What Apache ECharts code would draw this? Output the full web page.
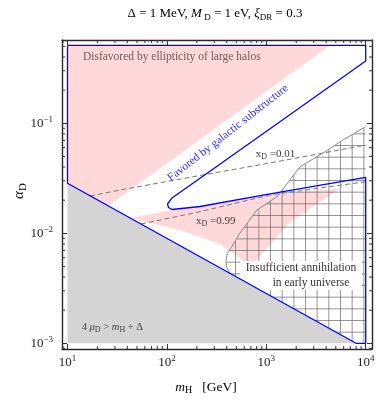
<!DOCTYPE html>
<html><head><meta charset="utf-8">
<script src="https://cdn.jsdelivr.net/npm/echarts@6/dist/echarts.min.js"></script>
<style>html,body{margin:0;padding:0;background:#fff}#c{width:379px;height:401px}</style>
</head><body><div id="c"></div>
<script>
// ---- axis extents (frame includes a small padding around the data range 10..1e4, 1e-3..0.51)
const X_MIN = 8.806, X_MAX = 11570;
const Y_MIN = 8.875e-4, Y_MAX = 0.5716;
const xMajorTicks = [10, 100, 1000, 10000];
const yMajorTicks = [0.001, 0.01, 0.1];
const xMinorTicks = [9, 20, 30, 40, 50, 60, 70, 80, 90, 200, 300, 400, 500, 600, 700, 800, 900, 2000, 3000, 4000, 5000, 6000, 7000, 8000, 9000];
const yMinorTicks = [0.0009, 0.002, 0.003, 0.004, 0.005, 0.006, 0.007, 0.008, 0.009, 0.02, 0.03, 0.04, 0.05, 0.06, 0.07, 0.08, 0.09, 0.2, 0.3, 0.4, 0.5];

// ---- regions (m_H [GeV], alpha_D)
const grayRegion = [[10, 0.001], [10, 0.0285], [8000, 0.001]];
const pinkUpper = [[10, 0.51], [4373, 0.51], [25.55, 0.0177], [10, 0.0285]];
const pinkLower = [[42.55, 0.01377], [112.5, 0.01629], [215.3, 0.01734], [1090, 0.02253], [5513, 0.02555],
                   [1731, 0.01267], [769.6, 0.00548], [610.6, 0.00548], [342.1, 0.007993], [135.5, 0.01072]];
const hatchCurve = [[431.3, 0.00432], [400, 0.0049], [393, 0.0056], [405, 0.0066], [441.5, 0.00735], [543.7, 0.01006],
                    [806, 0.01629], [1281, 0.02151], [2183, 0.04031], [3719, 0.0537], [5908, 0.07049], [10000, 0.0931]];
const hatchCorners = [[10000, 0.001], [8000, 0.001]];
const favoredOutline = [[10, 0.51], [10000, 0.51], [10000, 0.368], [1047, 0.0869], [215.3, 0.0317], [112.5, 0.02094],
                        [101.4, 0.01846], [103.8, 0.01716], [112.5, 0.01646], [215.3, 0.01752], [1090, 0.02277],
                        [10000, 0.03217], [10000, 0.001], [8000, 0.001], [10, 0.0285], [10, 0.51]];
const xD001 = [[16.84, 0.02183], [33.75, 0.02474], [215.3, 0.03353], [1090, 0.04356], [10000, 0.06348]];
const xD099 = [[54.9, 0.01215], [215.3, 0.01572], [1090, 0.0223], [10000, 0.02944]];
const textBox = [[543.7, 0.0056], [9181, 0.0056], [9181, 0.00305], [543.7, 0.00305]];

// ---- annotation anchors (data coords)
const posEllipticity = [14.3, 0.4005];
const posFavored = [411.8, 0.0816];
const posXD001 = [1238, 0.05226];
const posXD099 = [310.5, 0.01293];
const posInsuff1 = [2234, 0.004806];
const posInsuff2 = [2816, 0.003556];
const posConstraint = [13.9, 0.001406];

const SERIF = '"Liberation Serif", "Times New Roman", serif';
function rich(size, color) {
  return {
    r: {fontSize: size, fontFamily: SERIF, color: color},
    i: {fontSize: size, fontFamily: SERIF, fontStyle: 'italic', color: color},
    sub: {fontSize: Math.round(size * 0.72), fontFamily: SERIF, color: color, padding: [Math.round(size * 0.55), 0, 0, 0]},
    sup: {fontSize: Math.round(size * 0.7), fontFamily: SERIF, color: color, padding: [0, 0, Math.round(size * 0.6), 0]}
  };
}

// hatch pattern
const pc = document.createElement('canvas');
pc.width = 35; pc.height = 35;
(function () {
  const g = pc.getContext('2d');
  g.strokeStyle = 'rgba(90,90,90,0.7)';
  g.lineWidth = 0.9;
  [1.67, 13.33, 25].forEach(function (x) { g.beginPath(); g.moveTo(x + 0.5, 0); g.lineTo(x + 0.5, 35); g.stroke(); });
  [5, 16.67, 28.33].forEach(function (y) { g.beginPath(); g.moveTo(0, y + 0.5); g.lineTo(35, y + 0.5); g.stroke(); });
})();

function polySeries(points, style, z) {
  return {
    type: 'custom', coordinateSystem: 'cartesian2d', z: z, silent: true, data: points,
    renderItem: function (params, api) {
      if (params.dataIndex !== 0) return null;
      return {type: 'polygon', shape: {points: points.map(function (p) { return api.coord(p); })}, style: style};
    }
  };
}
function lineSeries(points, color, width, dash, z) {
  return {type: 'line', data: points, showSymbol: false, silent: true, z: z, animation: false,
    lineStyle: {color: color, width: width, type: dash || 'solid'}};
}

// tick marks (minor) drawn through the axes' scales
const tickData = [];
xMinorTicks.forEach(function (v) { tickData.push([v, Y_MIN, 0]); tickData.push([v, Y_MAX, 1]); });
yMinorTicks.forEach(function (v) { tickData.push([X_MIN, v, 2]); tickData.push([X_MAX, v, 3]); });

const texts = [
  {pos: posEllipticity, text: 'Disfavored by ellipticity of large halos', size: 11.5, color: '#705a5a', align: 'left', rot: 0},
  {pos: posFavored, text: 'Favored by galactic substructure', size: 11.5, color: '#2b2bff', align: 'center', rot: 38},
  {pos: posXD001, text: '{r|x}{sub|D}{r| =0.01}', size: 11, color: '#3a3a3a', align: 'center', rot: 0},
  {pos: posXD099, text: '{r|x}{sub|D}{r| =0.99}', size: 11, color: '#4d3838', align: 'center', rot: 0},
  {pos: posInsuff1, text: 'Insufficient annihilation', size: 11.5, color: '#333', align: 'center', rot: 0},
  {pos: posInsuff2, text: 'in early universe', size: 11.5, color: '#333', align: 'center', rot: 0},
  {pos: posConstraint, text: '{r|4 }{i|μ}{sub|D}{r| > }{i|m}{sub|H}{r| + Δ}', size: 10.5, color: '#444', align: 'left', rot: 0}
];

function fmtLog(v) {
  const e = Math.round(Math.log10(v));
  if (Math.abs(Math.log10(v) - e) > 1e-6) return '';
  return '{b|10}{e|' + String(e).replace('-', '\u2212') + '}';
}
const tickRich = {b: {fontSize: 13, fontFamily: SERIF, color: '#222'}, e: {fontSize: 9, fontFamily: SERIF, color: '#222', padding: [0, 0, 8, 0]}};
const frameLine = {show: true, onZero: false, lineStyle: {color: '#2a2a2a', width: 1.4}};

function xAx(pos, labels) {
  return {type: 'log', position: pos, min: X_MIN, max: X_MAX, axisLine: frameLine,
    axisTick: {show: true, inside: true, length: 5, lineStyle: {color: '#333', width: 1}},
    axisLabel: {show: labels, formatter: fmtLog, rich: tickRich, margin: 5, showMinLabel: false, showMaxLabel: false},
    splitLine: {show: false}, minorTick: {show: false}};
}
function yAx(pos, labels) {
  return {type: 'log', position: pos, min: Y_MIN, max: Y_MAX, axisLine: frameLine,
    axisTick: {show: true, inside: true, length: 5, lineStyle: {color: '#333', width: 1}},
    axisLabel: {show: labels, formatter: fmtLog, rich: tickRich, margin: 9, showMinLabel: false, showMaxLabel: false},
    splitLine: {show: false}, minorTick: {show: false}};
}

const chart = echarts.init(document.getElementById('c'), null, {renderer: 'canvas'});
chart.setOption({
  animation: false,
  backgroundColor: '#fff',
  grid: {left: 62, top: 40, width: 310, height: 309, containLabel: false},
  xAxis: [xAx('bottom', true), xAx('top', false)],
  yAxis: [yAx('left', true), yAx('right', false)],
  graphic: [
    {type: 'text', x: 215, y: 14, style: {text: '{r|Δ = 1 MeV, }{i|M}{sub| D}{r| = 1 eV, }{i|ξ}{sub|DR}{r| = 0.3}',
      rich: rich(13, '#222'), align: 'center', verticalAlign: 'middle'}},
    {type: 'text', x: 19, y: 191, rotation: Math.PI / 2, style: {text: '{i|α}{sub|D}', rich: rich(15, '#222'), align: 'center', verticalAlign: 'middle'}},
    {type: 'text', x: 206, y: 387, style: {text: '{i|m}{sub|H}{r|   [GeV]}', rich: rich(13.5, '#222'), align: 'center', verticalAlign: 'middle'}}
  ],
  series: [
    polySeries(pinkUpper, {fill: '#ffd9d9'}, 1),
    polySeries(pinkLower, {fill: '#ffd9d9'}, 1),
    polySeries(hatchCurve.concat(hatchCorners), {fill: {type: 'pattern', image: pc, repeat: 'repeat'}}, 2),
    polySeries(textBox, {fill: '#ffffff'}, 3),
    polySeries(grayRegion, {fill: '#d4d4d4'}, 4),
    lineSeries(xD001, '#777', 1, [5, 3], 5),
    lineSeries(xD099, '#777', 1, [5, 3], 5),
    lineSeries(hatchCurve, '#8a8a8a', 1, 'solid', 6),
    lineSeries(favoredOutline, '#0000ff', 1.3, 'solid', 7),
    {type: 'custom', coordinateSystem: 'cartesian2d', z: 8, silent: true, data: tickData,
      renderItem: function (params, api) {
        const p = api.coord([api.value(0), api.value(1)]);
        const s = api.value(2), L = 3;
        const d = s === 0 ? [0, -L] : s === 1 ? [0, L] : s === 2 ? [L, 0] : [-L, 0];
        return {type: 'line', shape: {x1: p[0], y1: p[1], x2: p[0] + d[0], y2: p[1] + d[1]}, style: {stroke: '#333', lineWidth: 1}};
      }},
    {type: 'custom', coordinateSystem: 'cartesian2d', z: 9, silent: true, data: texts.map(function (t) { return t.pos; }),
      renderItem: function (params, api) {
        const t = texts[params.dataIndex];
        const p = api.coord(t.pos);
        return {type: 'text', x: p[0], y: p[1], rotation: t.rot * Math.PI / 180,
          style: {text: t.text, rich: rich(t.size, t.color), fill: t.color,
            font: t.size + 'px ' + SERIF, align: t.align, verticalAlign: 'middle'}};
      }}
  ]
});
</script></body></html>
